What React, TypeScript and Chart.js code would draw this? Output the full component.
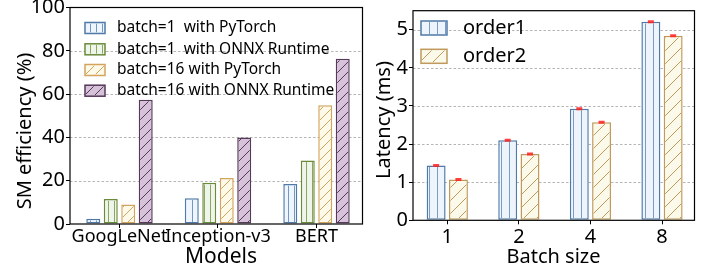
import React, { useEffect, useRef } from "react";
import { Chart, registerables } from "chart.js";

Chart.register(...registerables);

const FONT = "'Noto Sans', 'DejaVu Sans', sans-serif";

// ---- Left chart data (SM efficiency) ----
const models = ["GoogLeNet", "Inception-v3", "BERT"];
const effSeriesNames = [
  "batch=1  with PyTorch",
  "batch=1  with ONNX Runtime",
  "batch=16 with PyTorch",
  "batch=16 with ONNX Runtime",
];
const b1PyTorch = [2.4, 11.9, 18.5];
const b1Onnx = [11.5, 19.0, 29.3];
const b16PyTorch = [9.0, 21.3, 54.8];
const b16Onnx = [57.4, 40.0, 76.3];

// ---- Right chart data (latency) ----
const batchSizes = ["1", "2", "4", "8"];
const latSeriesNames = ["order1", "order2"];
const order1 = [1.44, 2.1, 2.93, 5.21];
const order2 = [1.07, 1.74, 2.57, 4.84];
const order1Err = [0.02, 0.02, 0.02, 0.02];
const order2Err = [0.02, 0.02, 0.02, 0.02];

type Sty = { fill: string; edge: string; hatch: "|" | "/"; hatchColor: string };

const effStyles: Sty[] = [
  { fill: "#eef5fc", edge: "#4f7aa8", hatch: "|", hatchColor: "#7397c0" },
  { fill: "#eef5ea", edge: "#6b8a3a", hatch: "|", hatchColor: "#8ea562" },
  { fill: "#fdfaea", edge: "#d2a45e", hatch: "/", hatchColor: "#d2a45e" },
  { fill: "#d7c3d9", edge: "#55385a", hatch: "/", hatchColor: "#55385a" },
];
const latStyles: Sty[] = [
  { fill: "#edf4fb", edge: "#4f7aa8", hatch: "|", hatchColor: "#7a9cc4" },
  { fill: "#fbf9ea", edge: "#bf9a5c", hatch: "/", hatchColor: "#bf9a5c" },
];

function drawHatch(
  ctx: CanvasRenderingContext2D,
  l: number, t: number, r: number, b: number,
  kind: "|" | "/", color: string, sp: number
) {
  if (r <= l || b <= t) return;
  ctx.save();
  ctx.beginPath();
  ctx.rect(l, t, r - l, b - t);
  ctx.clip();
  ctx.strokeStyle = color;
  ctx.lineWidth = 1;
  ctx.beginPath();
  if (kind === "|") {
    for (let x = Math.ceil(l / sp) * sp + 0.5; x < r; x += sp) {
      ctx.moveTo(x, t);
      ctx.lineTo(x, b);
    }
  } else {
    const k0 = Math.floor((l + t) / sp) - 1;
    const k1 = Math.ceil((r + b) / sp) + 1;
    for (let k = k0; k <= k1; k++) {
      const c = k * sp;
      ctx.moveTo(c - b, b);
      ctx.lineTo(c - t, t);
    }
  }
  ctx.stroke();
  ctx.restore();
}

type Cfg = {
  styles: Sty[];
  hatchSp: { "|": number; "/": number };
  errs?: number[][];
  legend: { names: string[]; boxX: number; boxW: number; boxH: number; textX: number; rows: number[]; size: number };
  yTitle: { text: string; x: number; y: number; size: number };
  xTitle: { text: string; x: number; y: number; size: number };
};

function makePlugin(cfg: Cfg) {
  return {
    id: "customDraw",
    beforeDatasetsDraw(chart: any) {
      const ctx: CanvasRenderingContext2D = chart.ctx;
      const ys = chart.scales.y;
      const ca = chart.chartArea;
      ctx.save();
      ctx.strokeStyle = "#b5b5b5";
      ctx.lineWidth = 1;
      ctx.setLineDash([2.5, 2]);
      ys.ticks.forEach((t: any) => {
        if (t.value > ys.min && t.value < ys.max) {
          const y = Math.round(ys.getPixelForValue(t.value)) + 0.5;
          ctx.beginPath();
          ctx.moveTo(ca.left, y);
          ctx.lineTo(ca.right, y);
          ctx.stroke();
        }
      });
      ctx.restore();
    },
    afterDatasetsDraw(chart: any) {
      const ctx: CanvasRenderingContext2D = chart.ctx;
      const ca = chart.chartArea;
      const ys = chart.scales.y;
      chart.data.datasets.forEach((ds: any, i: number) => {
        const st = cfg.styles[i];
        const meta = chart.getDatasetMeta(i);
        meta.data.forEach((el: any) => {
          const bw = 1.5;
          const l = el.x - el.width / 2 + bw;
          const r = el.x + el.width / 2 - bw;
          const t = Math.min(el.y, el.base) + bw;
          const b = Math.max(el.y, el.base) - bw;
          drawHatch(ctx, l, t, r, b, st.hatch, st.hatchColor, cfg.hatchSp[st.hatch]);
        });
      });
      if (cfg.errs) {
        ctx.save();
        ctx.strokeStyle = "rgba(255,30,30,0.85)";
        ctx.lineWidth = 1.5;
        chart.data.datasets.forEach((ds: any, i: number) => {
          const meta = chart.getDatasetMeta(i);
          meta.data.forEach((el: any, j: number) => {
            const v = ds.data[j].y;
            const e = cfg.errs![i][j];
            const y1 = ys.getPixelForValue(v + e);
            const y2 = ys.getPixelForValue(v - e);
            ctx.beginPath();
            ctx.moveTo(el.x, y1);
            ctx.lineTo(el.x, y2);
            ctx.moveTo(el.x - 3, y1);
            ctx.lineTo(el.x + 3, y1);
            ctx.moveTo(el.x - 3, y2);
            ctx.lineTo(el.x + 3, y2);
            ctx.stroke();
          });
        });
        ctx.restore();
      }
      ctx.save();
      ctx.strokeStyle = "#000";
      ctx.lineWidth = 1.2;
      ctx.strokeRect(ca.left, ca.top, ca.right - ca.left, ca.bottom - ca.top);
      ctx.restore();
      const lg = cfg.legend;
      ctx.save();
      lg.names.forEach((name, i) => {
        const st = cfg.styles[i];
        const cy = lg.rows[i];
        const x0 = lg.boxX;
        const y0 = cy - lg.boxH / 2;
        ctx.fillStyle = st.fill;
        ctx.fillRect(x0, y0, lg.boxW, lg.boxH);
        drawHatch(ctx, x0 + 1, y0 + 1, x0 + lg.boxW - 1, y0 + lg.boxH - 1, st.hatch, st.hatchColor, cfg.hatchSp[st.hatch]);
        ctx.strokeStyle = st.edge;
        ctx.lineWidth = 1.5;
        ctx.strokeRect(x0, y0, lg.boxW, lg.boxH);
        ctx.fillStyle = "#000";
        ctx.font = `${lg.size}px ${FONT}`;
        ctx.textBaseline = "middle";
        ctx.textAlign = "left";
        ctx.fillText(name, lg.textX, cy);
      });
      ctx.restore();
      ctx.save();
      ctx.fillStyle = "#000";
      ctx.textAlign = "center";
      ctx.textBaseline = "middle";
      const yt = cfg.yTitle;
      ctx.font = `${yt.size}px ${FONT}`;
      ctx.translate(yt.x, yt.y);
      ctx.rotate(-Math.PI / 2);
      ctx.fillText(yt.text, 0, 0);
      ctx.restore();
      ctx.save();
      ctx.fillStyle = "#000";
      ctx.textAlign = "center";
      ctx.textBaseline = "middle";
      const xt = cfg.xTitle;
      ctx.font = `${xt.size}px ${FONT}`;
      ctx.fillText(xt.text, xt.x, xt.y);
      ctx.restore();
    },
  };
}

function zeroPad(s: any) {
  s.paddingTop = 0;
  s.paddingBottom = 0;
  s.paddingLeft = 0;
  s.paddingRight = 0;
}

const tickGrid = { offset: false, drawOnChartArea: false, drawTicks: true, tickLength: 4, color: "#000", tickWidth: 1 };

function effConfig(): any {
  const series = [b1PyTorch, b1Onnx, b16PyTorch, b16Onnx];
  return {
    type: "bar",
    data: {
      datasets: series.map((arr, i) => ({
        label: effSeriesNames[i],
        data: arr.map((v, j) => ({ x: j, y: v })),
        backgroundColor: effStyles[i].fill,
        borderColor: effStyles[i].edge,
        borderWidth: 1.5,
        borderSkipped: false,
        categoryPercentage: 0.71,
        barPercentage: 0.8,
      })),
    },
    options: {
      responsive: false,
      animation: false,
      devicePixelRatio: 1,
      layout: { padding: { top: 7.5, right: 2.5, left: 0, bottom: 0 } },
      plugins: { legend: { display: false }, tooltip: { enabled: false } },
      scales: {
        x: {
          type: "linear",
          offset: false,
          min: -0.5025,
          max: 2.467,
          afterBuildTicks: (s: any) => {
            s.ticks = models.map((_, i) => ({ value: i }));
          },
          afterFit: (s: any) => {
            s.height = 50;
            zeroPad(s);
          },
          border: { display: false },
          grid: tickGrid,
          ticks: {
            autoSkip: false,
            maxRotation: 0,
            padding: 0,
            color: "#000",
            font: { family: FONT, size: 18, lineHeight: 1 },
            callback: (v: any) => models[v] ?? "",
          },
        },
        y: {
          min: 0,
          max: 100,
          afterFit: (s: any) => {
            s.width = 70;
            zeroPad(s);
          },
          border: { display: false },
          grid: tickGrid,
          ticks: {
            stepSize: 20,
            padding: 1,
            color: "#000",
            font: { family: FONT, size: 20, lineHeight: 1 },
          },
        },
      },
    },
    plugins: [
      makePlugin({
        styles: effStyles,
        hatchSp: { "|": 6, "/": 10 },
        legend: { names: effSeriesNames, boxX: 85, boxW: 20, boxH: 11, textX: 117, rows: [28, 49.3, 70, 90.7], size: 15.5 },
        yTitle: { text: "SM efficiency (%)", x: 25, y: 131, size: 20 },
        xTitle: { text: "Models", x: 221, y: 257, size: 21 },
      }),
    ],
  };
}

function latConfig(): any {
  const series = [order1, order2];
  return {
    type: "bar",
    data: {
      datasets: series.map((arr, i) => ({
        label: latSeriesNames[i],
        data: arr.map((v, j) => ({ x: j, y: v })),
        backgroundColor: latStyles[i].fill,
        borderColor: latStyles[i].edge,
        borderWidth: 1.5,
        borderSkipped: false,
        categoryPercentage: 0.623,
        barPercentage: 0.85,
      })),
    },
    options: {
      responsive: false,
      animation: false,
      devicePixelRatio: 1,
      layout: { padding: { top: 10.7, right: 16.5, left: 0, bottom: 0 } },
      plugins: { legend: { display: false }, tooltip: { enabled: false } },
      scales: {
        x: {
          type: "linear",
          offset: false,
          min: -0.479,
          max: 3.454,
          afterBuildTicks: (s: any) => {
            s.ticks = batchSizes.map((_, i) => ({ value: i }));
          },
          afterFit: (s: any) => {
            s.height = 53.7;
            zeroPad(s);
          },
          border: { display: false },
          grid: tickGrid,
          ticks: {
            autoSkip: false,
            maxRotation: 0,
            padding: 3,
            color: "#000",
            font: { family: FONT, size: 20, lineHeight: 1 },
            callback: (v: any) => batchSizes[v] ?? "",
          },
        },
        y: {
          min: 0,
          max: 5.5,
          afterBuildTicks: (s: any) => {
            s.ticks = s.ticks.filter((t: any) => t.value <= 5);
          },
          afterFit: (s: any) => {
            s.width = 48;
            zeroPad(s);
          },
          border: { display: false },
          grid: tickGrid,
          ticks: {
            stepSize: 1,
            padding: 1,
            color: "#000",
            font: { family: FONT, size: 20, lineHeight: 1 },
          },
        },
      },
    },
    plugins: [
      makePlugin({
        styles: latStyles,
        hatchSp: { "|": 8, "/": 13 },
        errs: [order1Err, order2Err],
        legend: { names: latSeriesNames, boxX: 56, boxW: 26, boxH: 14, textX: 98, rows: [28, 56.3], size: 20 },
        yTitle: { text: "Latency (ms)", x: 19, y: 120, size: 20 },
        xTitle: { text: "Batch size", x: 188.5, y: 257, size: 20 },
      }),
    ],
  };
}

function ChartCanvas(props: { width: number; height: number; left: number; make: () => any }) {
  const ref = useRef<HTMLCanvasElement>(null);
  useEffect(() => {
    const chart = new Chart(ref.current!, props.make());
    return () => chart.destroy();
  }, []);
  return (
    <canvas
      ref={ref}
      width={props.width}
      height={props.height}
      style={{ position: "absolute", left: props.left, top: 0, width: props.width, height: props.height }}
    />
  );
}

export default function App() {
  return (
    <div style={{ position: "fixed", left: 0, top: 0, width: 711, height: 274, background: "#fff" }}>
      <ChartCanvas width={365} height={274} left={0} make={effConfig} />
      <ChartCanvas width={346} height={274} left={365} make={latConfig} />
    </div>
  );
}
